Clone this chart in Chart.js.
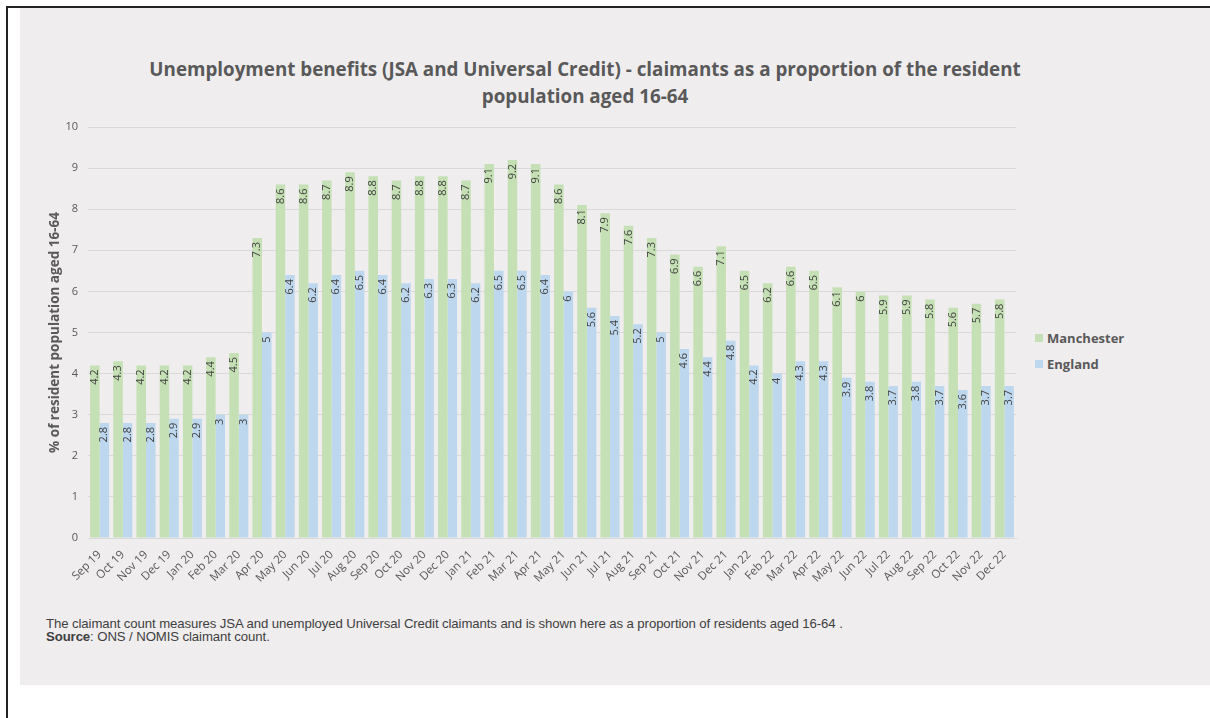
<!DOCTYPE html>
<html lang="en">
<head>
    <meta charset="UTF-8">
    <title>Unemployment benefits - claimants</title>
    <script src="https://cdn.jsdelivr.net/npm/chart.js@4.4.0/dist/chart.umd.min.js"></script>
    <style>
        body { margin: 0; background: #fff; width: 1210px; height: 718px; position: relative; overflow: hidden; }
        .frameTop { position: absolute; left: 6px; top: 6px; width: 1204px; height: 2px; background: #222; }
        .frameLeft { position: absolute; left: 6px; top: 6px; width: 2px; height: 712px; background: #222; }
        .panel { position: absolute; left: 20px; top: 8px; width: 1190px; height: 677px; background: #efedee; }
        .titulo { position: absolute; left: 60px; width: 1050px; top: 56px; text-align: center;
            font-family: "Open Sans", sans-serif; font-weight: bold; font-size: 18.8px; line-height: 27px; color: #595959; }
        .grafico { position: absolute; left: 44px; top: 110px; width: 976px; height: 490px; }
        .legenda { position: absolute; left: 1035px; top: 325px; font-family: "Open Sans", sans-serif;
            font-weight: bold; font-size: 13px; color: #595959; }
        .legenda div { height: 26px; display: flex; align-items: center; }
        .legenda span { display: inline-block; width: 8px; height: 8px; margin-right: 4px; }
        .nota { position: absolute; left: 46px; top: 617px; font-family: "Liberation Sans", Arial, sans-serif;
            font-size: 13.2px; line-height: 13px; color: #404040; letter-spacing: -0.1px; }
    </style>
</head>
<body>
    <div class="frameTop"></div>
    <div class="frameLeft"></div>
    <div class="panel"></div>
    <div class="titulo">Unemployment benefits (JSA and Universal Credit) - claimants as a proportion of the resident<br>population aged 16-64</div>
    <div class="grafico"><canvas id="canvasDesemprego"></canvas></div>
    <div class="legenda">
        <div><span style="background:#c5e0b4"></span>Manchester</div>
        <div><span style="background:#bdd7ee"></span>England</div>
    </div>
    <div class="nota">The claimant count measures JSA and unemployed Universal Credit claimants and is shown here as a proportion of residents aged 16-64 .<br><b>Source</b>: ONS / NOMIS claimant count.</div>

<script>
    // dados
    const meses = ['Sep 19', 'Oct 19', 'Nov 19', 'Dec 19', 'Jan 20', 'Feb 20', 'Mar 20', 'Apr 20', 'May 20', 'Jun 20',
        'Jul 20', 'Aug 20', 'Sep 20', 'Oct 20', 'Nov 20', 'Dec 20', 'Jan 21', 'Feb 21', 'Mar 21', 'Apr 21',
        'May 21', 'Jun 21', 'Jul 21', 'Aug 21', 'Sep 21', 'Oct 21', 'Nov 21', 'Dec 21', 'Jan 22', 'Feb 22',
        'Mar 22', 'Apr 22', 'May 22', 'Jun 22', 'Jul 22', 'Aug 22', 'Sep 22', 'Oct 22', 'Nov 22', 'Dec 22'];
    const manchester = [4.2, 4.3, 4.2, 4.2, 4.2, 4.4, 4.5, 7.3, 8.6, 8.6,
        8.7, 8.9, 8.8, 8.7, 8.8, 8.8, 8.7, 9.1, 9.2, 9.1,
        8.6, 8.1, 7.9, 7.6, 7.3, 6.9, 6.6, 7.1, 6.5, 6.2,
        6.6, 6.5, 6.1, 6, 5.9, 5.9, 5.8, 5.6, 5.7, 5.8];
    const england = [2.8, 2.8, 2.8, 2.9, 2.9, 3, 3, 5, 6.4, 6.2,
        6.4, 6.5, 6.4, 6.2, 6.3, 6.3, 6.2, 6.5, 6.5, 6.4,
        6, 5.6, 5.4, 5.2, 5, 4.6, 4.4, 4.8, 4.2, 4,
        4.3, 4.3, 3.9, 3.8, 3.7, 3.8, 3.7, 3.6, 3.7, 3.7];

    // rotulos verticais dentro do topo das barras
    const rotulos = {
        id: 'rotulos',
        afterDatasetsDraw(chart) {
            const ctx = chart.ctx;
            ctx.save();
            ctx.font = '11px "Open Sans", sans-serif';
            ctx.fillStyle = '#404040';
            ctx.textAlign = 'right';
            ctx.textBaseline = 'middle';
            chart.data.datasets.forEach((ds, i) => {
                chart.getDatasetMeta(i).data.forEach((bar, j) => {
                    ctx.save();
                    ctx.translate(bar.x, bar.y + 4);
                    ctx.rotate(-Math.PI / 2);
                    ctx.fillText(String(ds.data[j]), 0, 0);
                    ctx.restore();
                });
            });
            ctx.restore();
        }
    };

    const config = {
        type: 'bar',
        data: {
            labels: meses,
            datasets: [
                { label: 'Manchester', data: manchester, backgroundColor: '#c5e0b4' },
                { label: 'England', data: england, backgroundColor: '#bdd7ee' }
            ]
        },
        options: {
            responsive: true,
            maintainAspectRatio: false,
            animation: false,
            categoryPercentage: 0.82,
            barPercentage: 1.0,
            layout: { padding: { top: 17, right: 4, left: 0, bottom: 0 } },
            plugins: { legend: { display: false }, tooltip: { enabled: false } },
            scales: {
                x: {
                    grid: { display: false },
                    border: { color: '#d9d9d9' },
                    ticks: { color: '#595959', font: { size: 11.5, family: '"Open Sans", sans-serif' }, minRotation: 45, maxRotation: 45, autoSkip: false, padding: 2 },
                    afterFit: s => { s.height = 62; }
                },
                y: {
                    min: 0, max: 10,
                    ticks: { stepSize: 1, color: '#595959', font: { size: 11, family: '"Open Sans", sans-serif' }, padding: 10 },
                    grid: { color: '#d9d9d9', drawTicks: false },
                    border: { display: false },
                    title: { display: true, text: '% of resident population aged 16-64', color: '#595959',
                        font: { size: 13.5, weight: 'bold', family: '"Open Sans", sans-serif' }, padding: 3 },
                    afterFit: s => { s.width = 44; }
                }
            }
        },
        plugins: [rotulos]
    };

    let meuGrafico = new Chart(document.getElementById('canvasDesemprego'), config);
</script>
</body>
</html>
